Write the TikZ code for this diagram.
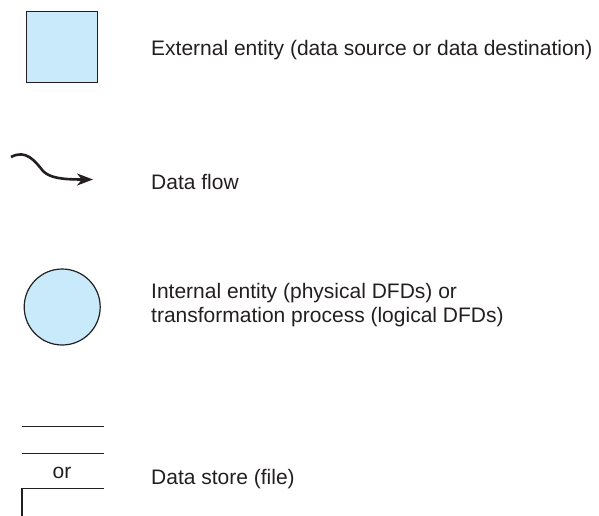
\documentclass[tikz,border=0pt]{standalone}
\usepackage{fontspec}
\setmainfont{Liberation Sans}
\usetikzlibrary{arrows.meta}
\definecolor{entityblue}{RGB}{200,234,250}
\definecolor{inkgray}{RGB}{35,31,32}
\tikzset{
  entitybox/.style={draw=inkgray,line width=1.4pt,fill=entityblue,minimum size=71pt,inner sep=0pt},
  processcircle/.style={draw=inkgray,line width=1.2pt,fill=entityblue,circle,minimum size=76pt,inner sep=0pt},
  legendtext/.style={anchor=base west,inner sep=0pt,text=inkgray,font=\fontsize{21}{24}\selectfont},
  storeline/.style={draw=inkgray,line width=1.1pt},
  flowline/.style={draw=inkgray,line width=2.6pt,-{Stealth[length=16pt,width=12pt,inset=5pt]}}
}
\begin{document}
\begin{tikzpicture}[x=1pt,y=-1pt]
  \useasboundingbox (0,0) rectangle (599,516);

  % External entity
  \node[entitybox] (extbox) at (62,47) {};
  \node[legendtext] (extlabel) at (151,55.7) {External entity (data source or data destination)};

  % Data flow
  \coordinate (flowstart) at (11,157);
  \coordinate (flowend) at (93,179.5);
  \draw[flowline] (flowstart) .. controls (26,149) and (35,161) .. (43,171)
    .. controls (50,178) and (62,179.5) .. (flowend);
  \node[legendtext] (flowlabel) at (151,189) {Data flow};

  % Internal entity / process
  \node[processcircle] (proccircle) at (62.2,307) {};
  \node[legendtext] (proclabel) at (151,298.3) {Internal entity (physical DFDs) or};
  \node[legendtext] (proclabelb) at (151,322.3) {transformation process (logical DFDs)};

  % Data store
  \draw[storeline] (21.7,426.7) -- (104.3,426.7);
  \draw[storeline] (21.7,453.3) -- (104.3,453.3);
  \node[legendtext,anchor=base] (ortext) at (62,478) {or};
  \draw[storeline] (22,516) -- (22,488.3) -- (104.3,488.3);
  \node[legendtext] (storelabel) at (151,484) {Data store (file)};
\end{tikzpicture}
\end{document}
